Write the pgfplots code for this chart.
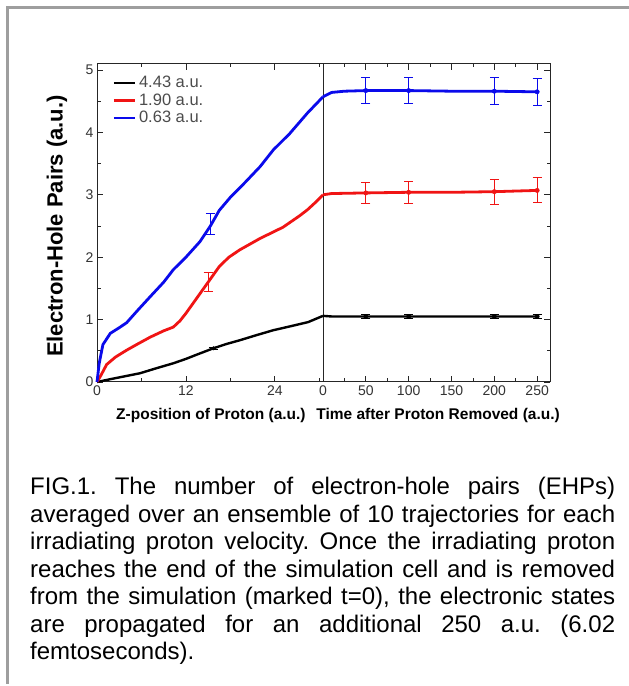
\documentclass[border=0pt]{standalone}
\usepackage{fontspec}
\setmainfont{Liberation Sans}
\usepackage{pgfplots}
\pgfplotsset{compat=1.18}
\frenchspacing
\definecolor{ublue}{RGB}{10,10,235}
\definecolor{ured}{RGB}{240,20,20}
\pgfplotsset{
  panel/.style={
    scale only axis, height=318pt,
    ymin=0, ymax=5.096,
    ytick={0,1,2,3,4,5}, minor ytick={0.5,1.5,2.5,3.5,4.5},
    tick align=inside,
    /pgf/number format/assume math mode=true,
    tick label style={font=\fontsize{14}{14}\selectfont, text=black!80},
    axis line style={line width=1pt, black!85},
    every tick/.style={black!85, line width=0.8pt},
    major tick length=6pt, minor tick length=3.5pt,
    xtick pos=both,
    clip=false,
  },
  ebar/.style={only marks, mark=*, forget plot,
    error bars/.cd, y dir=both, y explicit,
    error bar style={line width=0.9pt},
    error mark options={rotate=90, mark size=4.5pt, line width=0.9pt}},
}
\begin{document}
\begin{tikzpicture}
\path[use as bounding box] (0pt,0pt) rectangle (629pt,686pt);
\fill[white] (0pt,0pt) rectangle (629pt,686pt);
\draw[black!38, line width=3pt] (7.5pt,2pt) -- (7.5pt,678pt) -- (629pt,678pt);

% left panel
\begin{axis}[panel, at={(97pt,304pt)}, anchor=south west, width=226pt,
  xmin=0, xmax=30.5, xtick={0,12,24}, minor xtick={6,18,30},
  ytick pos=left,
  xlabel={\bfseries Z-position of Proton (a.u.)},
  ylabel={\bfseries Electron-Hole Pairs (a.u.)},
  every axis x label/.style={at={(axis description cs:0.504,-0.104)}, anchor=center, font=\fontsize{15.5}{15.5}\selectfont},
  every axis y label/.style={at={(axis description cs:-0.177,0.49)}, rotate=90, anchor=center, font=\fontsize{22}{22}\selectfont},
  legend style={draw=none, fill=none, at={(axis description cs:0.068,0.962)}, anchor=north west,
    font=\fontsize{16.5}{16.5}\selectfont, row sep=4.5pt, inner sep=0pt, text=black!70,
    nodes={inner xsep=3pt, inner ysep=0pt}},
  legend cell align=left,
  legend image code/.code={\draw[#1, line width=2.5pt] (0pt,0pt) -- (21pt,0pt);},
]
\addplot[black, line width=2.4pt] coordinates {
 (0,0) (2,0.05) (5.8,0.14) (8,0.22) (10.3,0.3) (12,0.37) (13.5,0.44) (15.7,0.54) (17.5,0.61) (19.3,0.67) (21.5,0.75) (23.8,0.83) (26,0.89) (28.5,0.96) (30.5,1.06)};
\addlegendentry{4.43 a.u.}
\addplot[ured, line width=2.8pt] coordinates {
 (0,0) (0.5,0.1) (1.3,0.28) (2.5,0.4) (4,0.51) (5.5,0.61) (7.2,0.72) (9,0.82) (10.3,0.88) (11.2,0.98) (12,1.1) (13.5,1.35) (15,1.6) (16.5,1.85) (17.8,2.0) (19.3,2.12) (22,2.3) (25.1,2.48) (27.3,2.66) (28.4,2.76) (29.5,2.88) (30.5,3.0)};
\addlegendentry{1.90 a.u.}
\addplot[ublue, line width=2.8pt] coordinates {
 (0,0) (0.3,0.3) (0.8,0.6) (1.8,0.78) (3,0.87) (4,0.95) (5.5,1.15) (7.2,1.37) (9,1.6) (10.3,1.8) (12,2.0) (13.9,2.25) (15.3,2.5) (16.5,2.75) (18,2.96) (20,3.2) (22,3.45) (23.8,3.72) (26,3.98) (28.4,4.31) (30.5,4.57)};
\addlegendentry{0.63 a.u.}
\addplot[black, mark size=1.8pt, ebar] coordinates {(15.7,0.54) +- (0,0.02)};
\addplot[ured, mark size=0.1pt, ebar] coordinates {(15,1.6) +- (0,0.15)};
\addplot[ublue, mark size=0.1pt, ebar] coordinates {(15.3,2.53) +- (0,0.17)};
\end{axis}

% right panel
\begin{axis}[panel, at={(323pt,304pt)}, anchor=south west, width=227pt,
  xmin=0, xmax=265, xtick={0,50,100,150,200,250}, minor xtick={25,75,125,175,225},
  ytick pos=right, yticklabels={},
  xlabel={\bfseries Time after Proton Removed (a.u.)},
  every axis x label/.style={at={(axis description cs:0.507,-0.104)}, anchor=center, font=\fontsize{15.5}{15.5}\selectfont},
]
\addplot[black, line width=2.4pt] coordinates {(0,1.06) (10,1.05) (50,1.05) (100,1.05) (150,1.05) (200,1.05) (250,1.05)};
\addplot[ured, line width=2.8pt] coordinates {(0,3.0) (10,3.02) (50,3.03) (100,3.04) (150,3.04) (200,3.05) (250,3.07)};
\addplot[ublue, line width=2.8pt] coordinates {(0,4.57) (10,4.64) (25,4.66) (50,4.67) (100,4.67) (150,4.66) (200,4.66) (250,4.65)};
\addplot[black, mark size=2.2pt, ebar] coordinates {(50,1.05) +- (0,0.03) (100,1.05) +- (0,0.03) (200,1.05) +- (0,0.03) (250,1.05) +- (0,0.03)};
\addplot[ured, mark size=2.2pt, ebar] coordinates {(50,3.03) +- (0,0.17) (100,3.04) +- (0,0.18) (200,3.05) +- (0,0.2) (250,3.07) +- (0,0.2)};
\addplot[ublue, mark size=2.2pt, ebar] coordinates {(50,4.67) +- (0,0.21) (100,4.67) +- (0,0.21) (200,4.66) +- (0,0.22) (250,4.65) +- (0,0.22)};
\end{axis}

% caption
\begin{scope}[every node/.style={anchor=base west, inner sep=0pt, font=\fontsize{24}{27.7}\selectfont}]
\node at (30pt,191pt) {\makebox[585pt][s]{FIG.1. The number of electron-hole pairs (EHPs)}};
\node at (30pt,163.5pt) {\makebox[585pt][s]{averaged over an ensemble of 10 trajectories for each}};
\node at (30pt,136pt) {\makebox[585pt][s]{irradiating proton velocity. Once the irradiating proton}};
\node at (30pt,108.5pt) {\makebox[585pt][s]{reaches the end of the simulation cell and is removed}};
\node at (30pt,81pt) {\makebox[585pt][s]{from the simulation (marked t=0), the electronic states}};
\node at (30pt,53.5pt) {\makebox[585pt][s]{are propagated for an additional 250 a.u. (6.02}};
\node at (30pt,26pt) {femtoseconds).};
\end{scope}
\end{tikzpicture}
\end{document}
